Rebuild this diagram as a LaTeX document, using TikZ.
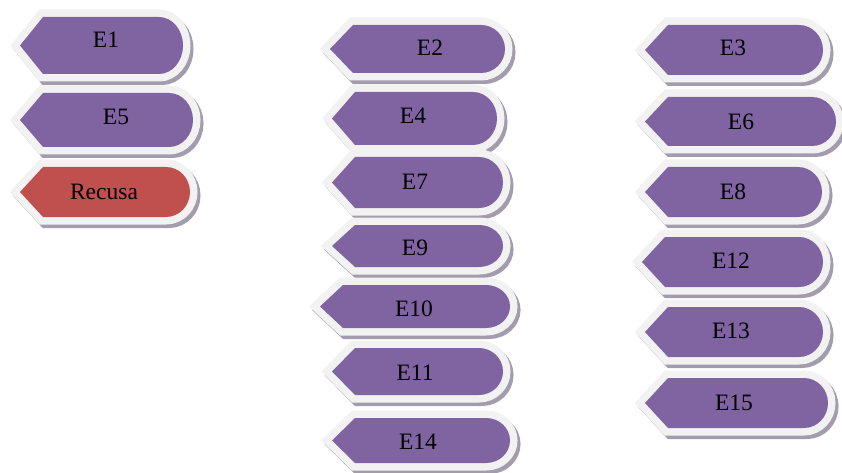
\documentclass[tikz,border=0pt]{standalone}
\usepackage{fontspec}
\setmainfont{Liberation Serif}
\definecolor{purp}{HTML}{8064A2}
\definecolor{redb}{HTML}{C0504D}
\definecolor{rim}{HTML}{F2F2F2}
\definecolor{shad}{HTML}{A39CAD}
\tikzset{
  lbl/.style={font=\fontsize{23.5}{26}\selectfont, text=black, inner sep=0pt},
  shadowpart/.style={fill=shad, draw=shad, line width=15pt, line join=miter, shift={(3,3.5)}},
  rimpart/.style={draw=rim, line width=15pt, line join=miter},
}
% #1 left, #2 top, #3 right, #4 bottom, #5 fill colour
\newcommand{\dispshape}[5]{%
  \path[shadowpart] (#1,{(#2+#4)/2}) -- ({#1+23},#2) -- ({#3-24},#2)
     arc[start angle=-90,end angle=90,x radius=24,y radius={(#4-#2)/2}] -- ({#1+23},#4) -- cycle;
  \path[rimpart] (#1,{(#2+#4)/2}) -- ({#1+23},#2) -- ({#3-24},#2)
     arc[start angle=-90,end angle=90,x radius=24,y radius={(#4-#2)/2}] -- ({#1+23},#4) -- cycle;
  \path[fill=#5] (#1,{(#2+#4)/2}) -- ({#1+23},#2) -- ({#3-24},#2)
     arc[start angle=-90,end angle=90,x radius=24,y radius={(#4-#2)/2}] -- ({#1+23},#4) -- cycle;
}
\begin{document}
\begin{tikzpicture}[x=1pt,y=-1pt]
\useasboundingbox[fill=white] (0,0) rectangle (842,473);
% column 1
\dispshape{20}{17}{183}{74}{purp}
\dispshape{20}{93}{193}{147}{purp}
\dispshape{20}{167}{190}{217}{redb}
\node[lbl] (tE1) at (106,40) {E1};
\node[lbl] (tE5) at (116,117) {E5};
\node[lbl] (tRecusa) at (104,192) {Recusa};
% column 2
\dispshape{330}{25}{505}{73}{purp}
\dispshape{332}{92}{497}{145}{purp}
\dispshape{332}{157}{503}{208}{purp}
\dispshape{332}{225}{503}{267}{purp}
\dispshape{320}{285}{510}{328}{purp}
\dispshape{332}{348}{503}{395}{purp}
\dispshape{332}{418}{510}{463}{purp}
\node[lbl] (tE2) at (430,48) {E2};
\node[lbl] (tE4) at (413,116) {E4};
\node[lbl] (tE7) at (415,182) {E7};
\node[lbl] (tE9) at (415,248) {E9};
\node[lbl] (tE10) at (414,309) {E10};
\node[lbl] (tE11) at (415,373) {E11};
\node[lbl] (tE14) at (418,442) {E14};
% column 3
\dispshape{645}{25}{823}{75}{purp}
\dispshape{645}{97}{836}{146}{purp}
\dispshape{645}{167}{822}{217}{purp}
\dispshape{642}{237}{823}{287}{purp}
\dispshape{645}{307}{823}{357}{purp}
\dispshape{645}{378}{828}{428}{purp}
\node[lbl] (tE3) at (733,48) {E3};
\node[lbl] (tE6) at (741,122) {E6};
\node[lbl] (tE8) at (733,192) {E8};
\node[lbl] (tE12) at (731,261) {E12};
\node[lbl] (tE13) at (731,331) {E13};
\node[lbl] (tE15) at (734,403) {E15};
\end{tikzpicture}
\end{document}
